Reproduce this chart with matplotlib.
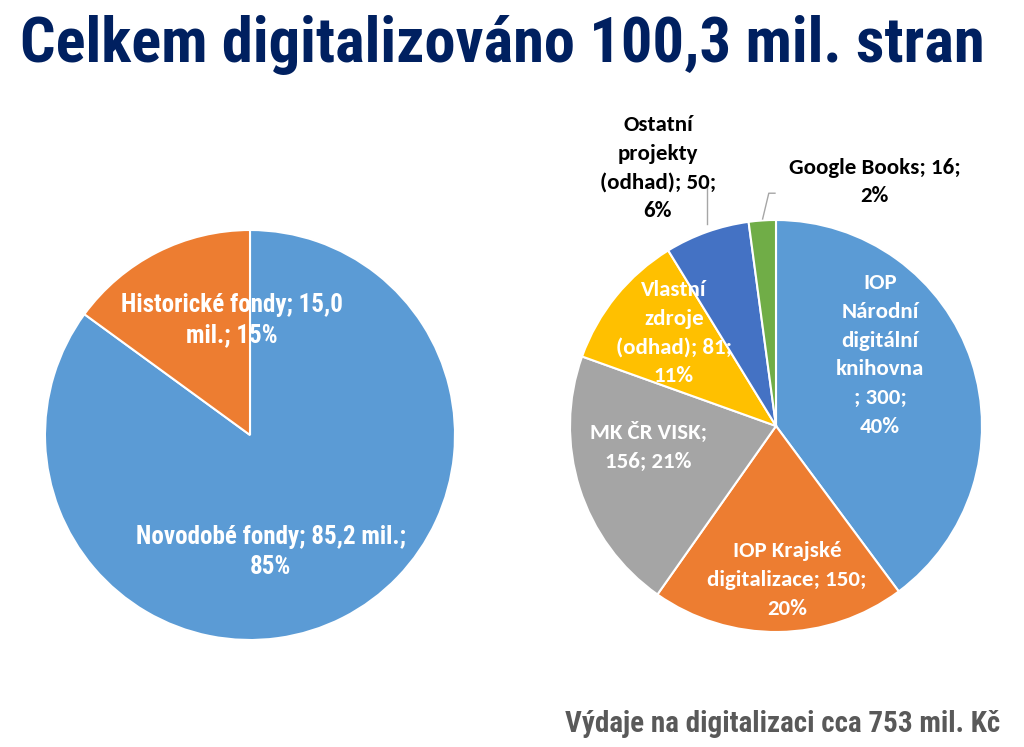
import matplotlib
matplotlib.use("Agg")
import matplotlib.pyplot as plt
import numpy as np

# ---- data ----
title = "Celkem digitalizováno 100,3 mil. stran"
footer = "Výdaje na digitalizaci cca 753 mil. Kč"

left_labels = ["Novodobé fondy; 85,2 mil.;\n85%", "Historické fondy; 15,0\nmil.; 15%"]
left_values = [85.2, 15.0]

right_labels = ["IOP\nNárodní\ndigitální\nknihovna\n; 300;\n40%",
                "IOP Krajské\ndigitalizace; 150;\n20%",
                "MK ČR VISK;\n156; 21%",
                "Vlastní\nzdroje\n(odhad); 81;\n11%",
                "Ostatní\nprojekty\n(odhad); 50;\n6%",
                "Google Books; 16;\n2%"]
right_values = [300, 150, 156, 81, 50, 16]

# ---- style ----
left_colors = ["#5B9BD5", "#ED7D31"]
right_colors = ["#5B9BD5", "#ED7D31", "#A5A5A5", "#FFC000", "#4472C4", "#70AD47"]
narrow = ["Roboto Condensed", "DejaVu Sans"]
calib = ["Carlito", "DejaVu Sans"]

W, H = 1024, 747
fig = plt.figure(figsize=(W / 100, H / 100), dpi=100)
fig.patch.set_facecolor("white")

def add_pie_axes(cx, cy, r):
    return fig.add_axes([(cx - r) / W, 1 - (cy + r) / H, 2 * r / W, 2 * r / H])

def finish(ax):
    ax.set_xlim(-1, 1)
    ax.set_ylim(-1, 1)
    ax.set_aspect("equal")
    ax.axis("off")

# left pie
axl = add_pie_axes(250, 435, 205)
axl.pie(left_values, colors=left_colors, startangle=90, counterclock=False,
        radius=1, wedgeprops=dict(edgecolor="white", linewidth=1.5))
finish(axl)
left_pos = [(0.10, -0.57), (-0.09, 0.56)]
for lab, (x, y) in zip(left_labels, left_pos):
    axl.text(x, y, lab, ha="center", va="center", color="white",
             fontsize=18, fontweight="bold", family=narrow, linespacing=1.35)

# right pie
axr = add_pie_axes(776, 426, 206)
axr.pie(right_values, colors=right_colors, startangle=90, counterclock=False,
        radius=1, wedgeprops=dict(edgecolor="white", linewidth=1.5))
finish(axr)
right_pos = [(0.505, 0.345), (0.053, -0.748), (-0.621, -0.102),
             (-0.495, 0.451), (-0.573, 1.252), (0.48, 1.184)]
right_txtcol = ["white", "white", "white", "white", "black", "black"]
for lab, (x, y), c in zip(right_labels, right_pos, right_txtcol):
    t = axr.text(x, y, lab, ha="center", va="center", color=c,
                 fontsize=16.5, fontweight="bold", family=calib, linespacing=1.55)
    t.set_clip_on(False)

# leader lines for outside labels
l1 = axr.plot([-0.335, -0.335], [0.98, 1.17], color="#A6A6A6", lw=1)[0]
l2 = axr.plot([-0.065, -0.035, -0.005], [1.005, 1.13, 1.13], color="#A6A6A6", lw=1)[0]
for ln in (l1, l2):
    ln.set_clip_on(False)

fig.text(20 / W, 1 - 45 / H, title, ha="left", va="center", color="#002060",
         fontsize=45, fontweight="bold", family=narrow)
fig.text(1000 / W, 1 - 724 / H, footer, ha="right", va="center", color="#595959",
         fontsize=21, fontweight="bold", family=narrow)

fig.savefig("out.png", dpi=100, facecolor="white")
